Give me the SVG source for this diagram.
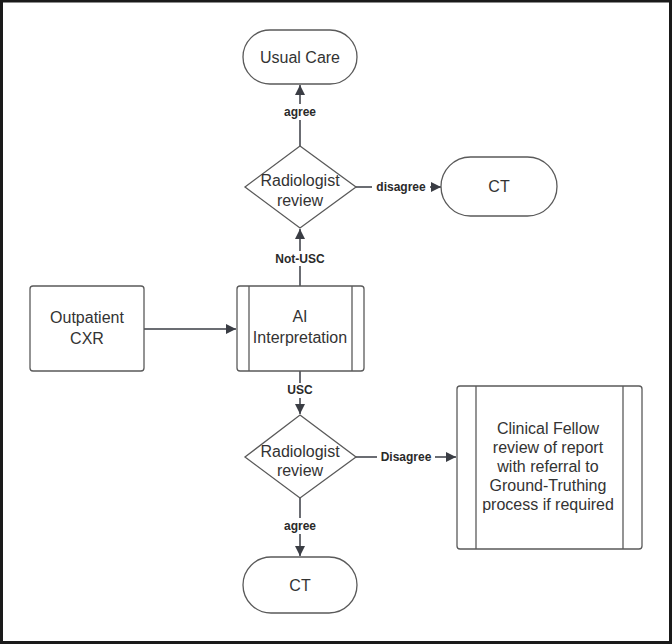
<svg xmlns="http://www.w3.org/2000/svg" width="672" height="644" viewBox="0 0 672 644">
<style>
.shape{fill:#fff;stroke:#5a5a5a;stroke-width:1.3}
.inner{stroke:#5a5a5a;stroke-width:1.3}
.txt{font-family:"Liberation Sans",Arial,sans-serif;font-size:16px;fill:#333;text-anchor:middle}
.lbl{font-family:"Liberation Sans",Arial,sans-serif;font-size:12px;font-weight:bold;fill:#2a2a2a;text-anchor:middle}
.conn{stroke:#3a3d44;stroke-width:1.5;fill:none}
</style>
<defs>
<marker id="ah" viewBox="0 0 10 10" refX="10" refY="5" markerWidth="10" markerHeight="10" markerUnits="userSpaceOnUse" orient="auto">
<path d="M0,0 L10,5 L0,10 z" fill="#3a3d44"/>
</marker>
</defs>
<rect x="0" y="0" width="672" height="644" fill="#fff"/>
<rect x="1.5" y="1" width="669" height="641.5" fill="none" stroke="#1a1a1a" stroke-width="3"/>

<g id="connectors">
<line class="conn" x1="300" y1="146" x2="300" y2="85" marker-end="url(#ah)"/>
<line class="conn" x1="356" y1="187" x2="441" y2="187" marker-end="url(#ah)"/>
<line class="conn" x1="300" y1="286" x2="300" y2="229" marker-end="url(#ah)"/>
<line class="conn" x1="144" y1="329" x2="236" y2="329" marker-end="url(#ah)"/>
<line class="conn" x1="300" y1="371" x2="300" y2="414" marker-end="url(#ah)"/>
<line class="conn" x1="356" y1="457" x2="456" y2="457" marker-end="url(#ah)"/>
<line class="conn" x1="300" y1="498" x2="300" y2="556" marker-end="url(#ah)"/>
<rect x="284" y="104" width="32" height="16" fill="#fff"/>
<text class="lbl" x="300" y="116">agree</text>
<rect x="372" y="180" width="58" height="15" fill="#fff"/>
<text class="lbl" x="401" y="191">disagree</text>
<rect x="272" y="251" width="56" height="15" fill="#fff"/>
<text class="lbl" x="300" y="263">Not-USC</text>
<rect x="285" y="383" width="30" height="15" fill="#fff"/>
<text class="lbl" x="300" y="394">USC</text>
<rect x="377" y="450" width="58" height="15" fill="#fff"/>
<text class="lbl" x="406" y="461">Disagree</text>
<rect x="284" y="518" width="32" height="16" fill="#fff"/>
<text class="lbl" x="300" y="530">agree</text>
</g>

<g id="usual-care">
<rect class="shape" x="243" y="30" width="114" height="54" rx="27"/>
<text class="txt" x="300" y="63">Usual Care</text>
</g>

<g id="radiologist-review-1">
<polygon class="shape" points="300,146 356,187 300,228 245,187"/>
<text class="txt" x="300" y="186">Radiologist</text>
<text class="txt" x="300" y="206">review</text>
</g>

<g id="ct-1">
<rect class="shape" x="441" y="157" width="116" height="59" rx="29.5"/>
<text class="txt" x="499" y="192">CT</text>
</g>

<g id="outpatient-cxr">
<rect class="shape" x="30" y="286" width="114" height="85" rx="3"/>
<text class="txt" x="87" y="323">Outpatient</text>
<text class="txt" x="87" y="344">CXR</text>
</g>

<g id="ai-interpretation">
<rect class="shape" x="237" y="286" width="127" height="85" rx="3"/>
<line class="inner" x1="249" y1="286" x2="249" y2="371"/>
<line class="inner" x1="352" y1="286" x2="352" y2="371"/>
<text class="txt" x="300" y="322">AI</text>
<text class="txt" x="300" y="343">Interpretation</text>
</g>

<g id="radiologist-review-2">
<polygon class="shape" points="300,415 356,457 300,498 245,457"/>
<text class="txt" x="300" y="457">Radiologist</text>
<text class="txt" x="300" y="476">review</text>
</g>

<g id="clinical-fellow">
<rect class="shape" x="457" y="386" width="185" height="163" rx="3"/>
<line class="inner" x1="476" y1="386" x2="476" y2="549"/>
<line class="inner" x1="623" y1="386" x2="623" y2="549"/>
<text class="txt" x="548" y="434">Clinical Fellow</text>
<text class="txt" x="548" y="453">review of report</text>
<text class="txt" x="548" y="472">with referral to</text>
<text class="txt" x="548" y="491">Ground-Truthing</text>
<text class="txt" x="548" y="510">process if required</text>
</g>

<g id="ct-2">
<rect class="shape" x="243" y="557" width="114" height="56" rx="28"/>
<text class="txt" x="300" y="591">CT</text>
</g>
</svg>
